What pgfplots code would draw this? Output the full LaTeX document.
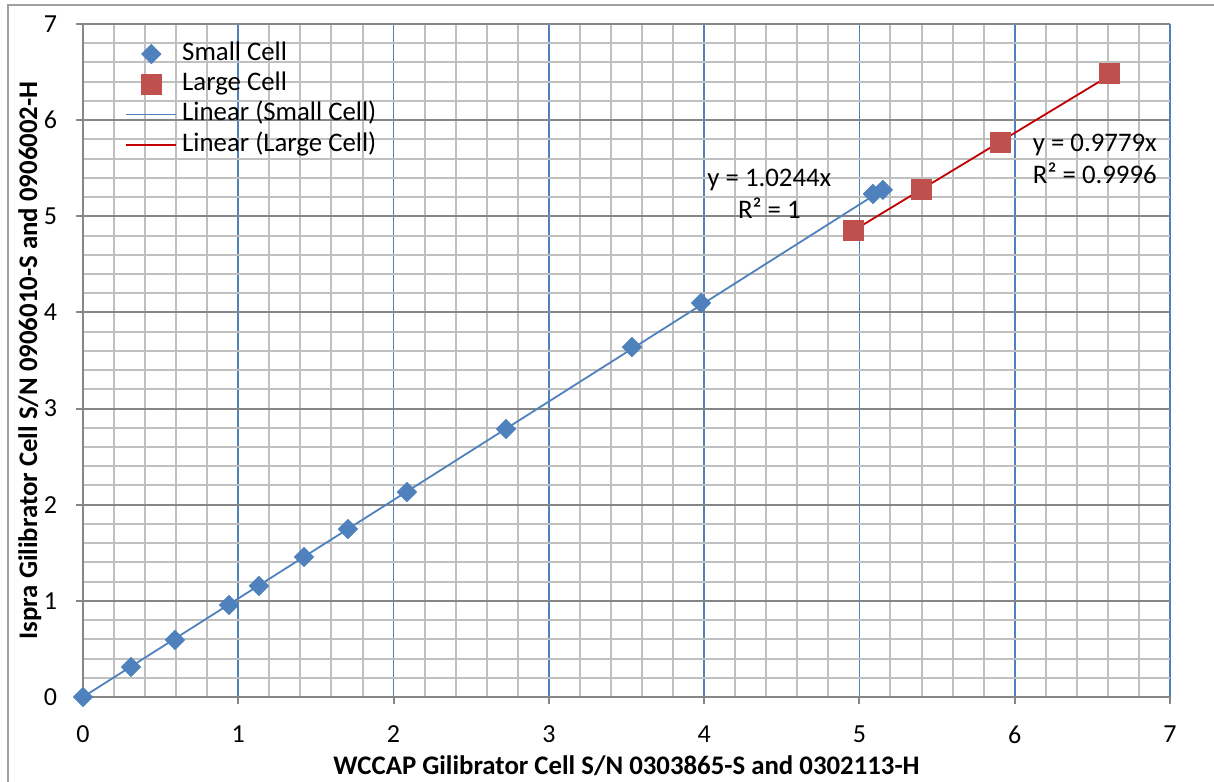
\documentclass[border=0pt]{standalone}
\usepackage{pgfplots}
\pgfplotsset{compat=1.18}
\usepackage{fontspec}
\setmainfont{Carlito}

\definecolor{smallblue}{HTML}{4F81BD}
\definecolor{largered}{HTML}{C0504D}
\definecolor{trendred}{HTML}{C00000}
\definecolor{minorgrid}{HTML}{C0C0C0}
\definecolor{majorgray}{HTML}{868686}
\definecolor{framegray}{HTML}{A0A0A0}

\pgfplotsset{
  markleg/.style={legend image code/.code={\draw[mark repeat=2,mark phase=2,##1] plot coordinates {(0bp,0bp) (12.5bp,0bp) (25bp,0bp)};}},
  lineleg/.style={legend image code/.code={\draw[##1] (0bp,0bp) -- (25bp,0bp);}},
}

% Small cell: WCCAP reading vs Ispra reading
\pgfplotstableread{
x      y
0      0
0.309  0.312
0.592  0.593
0.940  0.957
1.133  1.155
1.423  1.456
1.706  1.747
2.086  2.132
2.724  2.788
3.535  3.640
3.980  4.098
5.087  5.232
5.151  5.274
}\smallcell

% Large cell
\pgfplotstableread{
x      y
4.958  4.857
5.396  5.284
5.905  5.773
6.607  6.490
}\largecell

\begin{document}
\begin{tikzpicture}
\useasboundingbox (-41.5bp,-42.5bp) rectangle (565.5bp,348.5bp);
\begin{axis}[
  scale only axis, width=543.5bp, height=336.5bp,
  xmin=0, xmax=7, ymin=0, ymax=7,
  xtick={0,...,7}, ytick={0,...,7},
  minor x tick num=4, minor y tick num=4,
  grid=both,
  minor grid style={minorgrid, line width=1bp},
  major x grid style={smallblue, line width=0.8bp},
  major y grid style={majorgray, line width=1bp},
  axis x line*=bottom, axis y line*=left,
  axis line style={majorgray, line width=1.2bp},
  tick align=outside, major tick length=3.5bp, minor tick length=0pt,
  major tick style={majorgray, line width=1bp},
  /pgf/number format/assume math mode=true,
  tick label style={font=\fontsize{13bp}{15bp}\selectfont},
  xticklabel style={yshift=-7.2bp},
  yticklabel style={xshift=-6bp},
  xlabel={\textbf{WCCAP Gilibrator Cell S/N 0303865-S and 0302113-H}},
  ylabel={\textbf{Ispra Gilibrator Cell S/N 0906010-S and 0906002-H}},
  label style={font=\fontsize{13.4bp}{15bp}\selectfont},
  xlabel style={at={(axis description cs:0.5,0)}, anchor=base, yshift=-38.5bp},
  ylabel style={at={(axis description cs:-0.0423,0.5)}, anchor=base, rotate=0},
  legend style={at={(axis description cs:0,1)}, anchor=north west,
    xshift=21bp, yshift=-8.6bp, draw=none, fill=none, inner sep=0pt,
    font=\fontsize{13.4bp}{15bp}\selectfont, column sep=2.5bp, row sep=2.6bp,
    nodes={inner sep=0pt, text height=9.5bp, text depth=3bp}},
  legend cell align=left,
]
\addplot[only marks, mark=square*, mark size=3.4bp,
  mark options={rotate=45, fill=smallblue, draw=smallblue}, markleg]
  table[x=x, y=y] {\smallcell};
\addlegendentry{Small Cell}
\addplot[only marks, mark=square*, mark size=5bp,
  mark options={fill=largered, draw=largered}, markleg]
  table[x=x, y=y] {\largecell};
\addlegendentry{Large Cell}
% Linear fits through the origin: y = 1.0244x and y = 0.9779x
\addplot[smallblue, line width=0.9bp, no marks, lineleg]
  coordinates {(0,0) (5.151,5.277)};
\addlegendentry{Linear (Small Cell)}
\addplot[trendred, line width=0.9bp, no marks, lineleg]
  coordinates {(4.958,4.848) (6.607,6.461)};
\addlegendentry{Linear (Large Cell)}
\node[anchor=base, font=\fontsize{13.4bp}{15bp}\selectfont] at (axis cs:4.42,5.305) {y = 1.0244x};
\node[anchor=base, font=\fontsize{13.4bp}{15bp}\selectfont] at (axis cs:4.42,4.982) {R² = 1};
\node[anchor=base, font=\fontsize{13.4bp}{15bp}\selectfont] at (axis cs:6.516,5.672) {y = 0.9779x};
\node[anchor=base, font=\fontsize{13.4bp}{15bp}\selectfont] at (axis cs:6.516,5.343) {R² = 0.9996};
\end{axis}
% outer chart frame
\draw[framegray, line width=1bp] (-37.5bp,-42.5bp) -- (-37.5bp,346bp) -- (565.5bp,346bp);
\end{tikzpicture}
\end{document}
